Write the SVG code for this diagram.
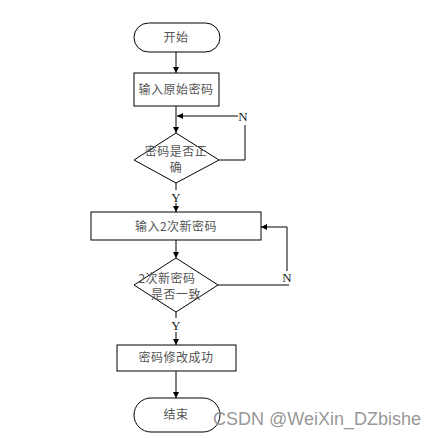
<svg xmlns="http://www.w3.org/2000/svg" width="440" height="438" viewBox="0 0 440 438">
<style>
.shape{fill:#fff;stroke:#000;stroke-width:1}
.cn{font-family:"Noto Sans CJK SC","Noto Sans",sans-serif;font-size:12px;fill:#555;text-anchor:middle;letter-spacing:0.5px}
.lbl{font-family:"Liberation Serif",serif;font-size:13px;fill:#222;text-anchor:middle}
.ln{fill:none;stroke:#000;stroke-width:1}
.wm{font-family:"Liberation Sans",Arial,sans-serif;font-size:18px;fill:#8a8a8a;fill-opacity:0.9}
</style>
<defs>
<marker id="ah" viewBox="0 0 10 10" refX="10" refY="5" markerWidth="6" markerHeight="6" orient="auto" markerUnits="userSpaceOnUse">
<path d="M0,0 L10,5 L0,10 z" fill="#000"/>
</marker>
</defs>
<rect width="440" height="438" fill="#fff"/>
<g id="connectors">
<line class="ln" x1="176" y1="52" x2="176" y2="73" marker-end="url(#ah)"/>
<line class="ln" x1="176" y1="106" x2="176" y2="133" marker-end="url(#ah)"/>
<polyline class="ln" points="219,160 245,160 245,125"/>
<line class="ln" x1="238" y1="116" x2="177" y2="116" marker-end="url(#ah)"/>
<line class="ln" x1="176" y1="183" x2="176" y2="190"/>
<line class="ln" x1="176" y1="203" x2="176" y2="212" marker-end="url(#ah)"/>
<line class="ln" x1="176" y1="240" x2="176" y2="258" marker-end="url(#ah)"/>
<polyline class="ln" points="218,285 289,285"/>
<polyline class="ln" points="287,271 287,227 261,227" marker-end="url(#ah)"/>
<line class="ln" x1="176" y1="312" x2="176" y2="318"/>
<line class="ln" x1="176" y1="332" x2="176" y2="345" marker-end="url(#ah)"/>
<line class="ln" x1="176" y1="371" x2="176" y2="398" marker-end="url(#ah)"/>
<text class="lbl" x="243" y="121">N</text>
<text class="lbl" x="176" y="202">Y</text>
<text class="lbl" x="287" y="282">N</text>
<text class="lbl" x="176" y="330">Y</text>
</g>
<g id="start">
<rect class="shape" x="134" y="23" width="86" height="29" rx="14.5"/>
<text class="cn" x="176" y="42">开始</text>
</g>
<g id="input-old">
<rect class="shape" x="134" y="73" width="85" height="33"/>
<text class="cn" x="176" y="94">输入原始密码</text>
</g>
<g id="check-old">
<polygon class="shape" points="176,133 219,160 176,183 134,160"/>
<text class="cn" x="176" y="156">密码是否正</text>
<text class="cn" x="176" y="172">确</text>
</g>
<g id="input-new">
<rect class="shape" x="91" y="212" width="170" height="28"/>
<text class="cn" x="176" y="231">输入2次新密码</text>
</g>
<g id="check-new">
<polygon class="shape" points="176,258 218,285 176,312 134,285"/>
<text class="cn" x="167" y="283">2次新密码</text>
<text class="cn" x="176" y="299">是否一致</text>
</g>
<g id="success">
<rect class="shape" x="117" y="345" width="119" height="26"/>
<text class="cn" x="176" y="362">密码修改成功</text>
</g>
<g id="end">
<rect class="shape" x="134" y="398" width="86" height="34" rx="17"/>
<text class="cn" x="176" y="419">结束</text>
</g>
<text class="wm" x="213" y="425">CSDN @WeiXin_DZbishe</text>
</svg>
